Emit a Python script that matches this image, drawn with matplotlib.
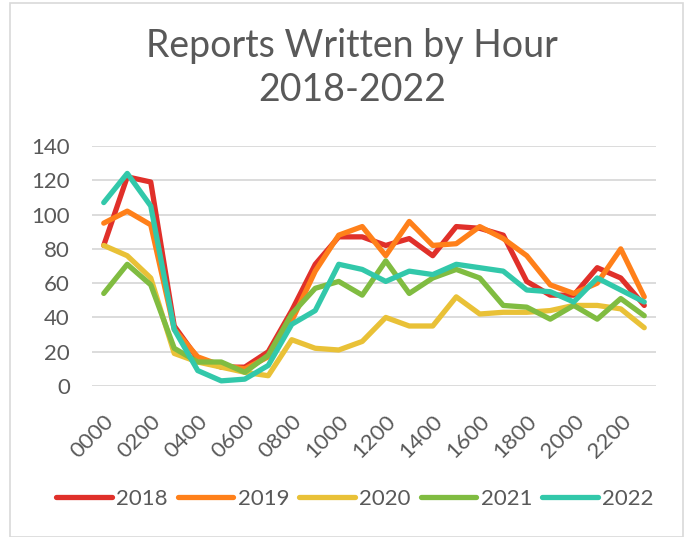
import matplotlib
matplotlib.use("Agg")
import matplotlib.pyplot as plt
from matplotlib.patches import Rectangle

hours = ["0000", "0100", "0200", "0300", "0400", "0500", "0600", "0700",
         "0800", "0900", "1000", "1100", "1200", "1300", "1400", "1500",
         "1600", "1700", "1800", "1900", "2000", "2100", "2200", "2300"]

y2018 = [82, 122, 119, 35, 16, 11, 11, 20, 44, 71, 87, 87, 82, 86, 76, 93, 92, 88, 61, 53, 53, 69, 63, 47]
y2019 = [95, 102, 94, 33, 17, 12, 10, 17, 38, 67, 88, 93, 76, 96, 82, 83, 93, 86, 76, 59, 54, 60, 80, 52]
y2020 = [82, 76, 63, 19, 14, 11, 8, 6, 27, 22, 21, 26, 40, 35, 35, 52, 42, 43, 43, 44, 47, 47, 45, 34]
y2021 = [54, 71, 59, 22, 14, 14, 8, 18, 42, 57, 61, 53, 73, 54, 63, 68, 63, 47, 46, 39, 47, 39, 51, 41]
y2022 = [107, 124, 105, 33, 9, 3, 4, 12, 36, 44, 71, 68, 61, 67, 65, 71, 69, 67, 56, 55, 49, 63, 56, 49]

series_names = ["2018", "2019", "2020", "2021", "2022"]
series_values = [y2018, y2019, y2020, y2021, y2022]
colors = ["#E0302A", "#FF801A", "#E9C137", "#80BC41", "#32C8AA"]

yticks = [0, 20, 40, 60, 80, 100, 120, 140]

TXT = "#595959"
plt.rcParams["font.family"] = ["Lato", "DejaVu Sans"]

fig = plt.figure(figsize=(6.94, 5.37), dpi=100)
ax = fig.add_axes([92 / 694, 1 - 386 / 537, (656 - 92) / 694, (386 - 146) / 537])

x = list(range(len(hours)))
for name, vals, c in zip(series_names, series_values, colors):
    ax.plot(x, vals, color=c, lw=3.8, label=name,
            solid_capstyle="round", solid_joinstyle="round")

ax.set_xlim(-0.5, len(hours) - 0.5)
ax.set_ylim(0, 140)
ax.set_yticks(yticks)
ax.set_yticklabels([str(v) for v in yticks])
ax.set_xticks(x[::2])
ax.set_xticklabels(hours[::2], rotation=45, ha="right", va="top",
                   rotation_mode="anchor")
ax.tick_params(axis="both", length=0, colors=TXT, labelsize=16)
ax.tick_params(axis="y", pad=16)
ax.tick_params(axis="x", pad=18)
ax.grid(axis="y", color="#D9D9D9", lw=1.3)
ax.set_axisbelow(True)
for s in ax.spines.values():
    s.set_visible(False)

fig.text(352 / 694, 1 - 68 / 537, "Reports Written by Hour\n2018-2022",
         ha="center", va="center", fontsize=27, color=TXT,
         fontweight="normal", linespacing=1.3)

leg = fig.legend(loc="center", bbox_to_anchor=(355 / 694, 1 - 499 / 537),
                 ncol=5, frameon=False, fontsize=16, handlelength=2.5,
                 handletextpad=0.2, columnspacing=0.45, labelcolor=TXT)

fig.patches.append(Rectangle((10 / 694, 0), 673 / 694, 1 - 3 / 537,
                             transform=fig.transFigure, fill=False,
                             edgecolor="#D9D9D9", lw=1.2))

fig.savefig("out.png", dpi=100)
